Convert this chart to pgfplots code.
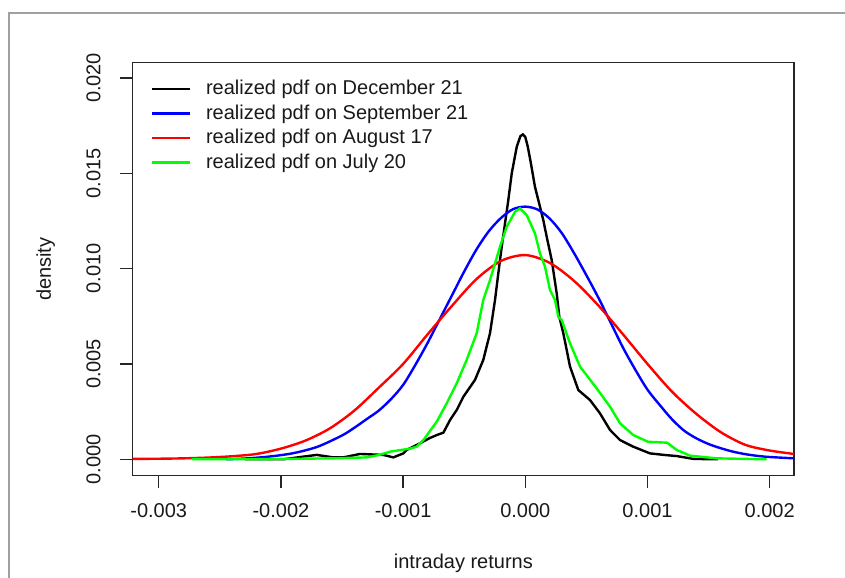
\documentclass[border=0pt]{standalone}
\usepackage{fontspec}
\setmainfont{Liberation Sans}
\usepackage{pgfplots}
\pgfplotsset{compat=1.18}
\definecolor{rblue}{RGB}{0,0,255}
\definecolor{rred}{RGB}{255,0,0}
\definecolor{rgreen}{RGB}{0,255,0}
\definecolor{framegray}{RGB}{160,160,160}
\begin{document}
\begin{tikzpicture}[x=1bp,y=1bp]
\useasboundingbox (0,0) rectangle (845,578);
\draw[framegray, line width=2bp] (9,0) -- (9,564.7) -- (845,564.7);
\begin{axis}[
  at={(132.7bp,102.3bp)}, anchor=south west,
  scale only axis, width=661.3bp, height=413bp,
  xmin=-0.003213, xmax=0.002199, ymin=-0.00086, ymax=0.0208,
  axis line style={line width=1.3bp, black!85},
  xtick={-0.003,-0.002,-0.001,0,0.001,0.002},
  xticklabels={-0.003,-0.002,-0.001,0.000,0.001,0.002},
  ytick={0,0.005,0.01,0.015,0.02},
  yticklabels={0.000,0.005,0.010,0.015,0.020},
  scaled ticks=false,
  tick align=outside, tick pos=left,
  major tick length=12.5bp,
  every tick/.style={black!85, line width=1.3bp},
  ticklabel style={font=\fontsize{20bp}{24bp}\selectfont, inner sep=0pt, black!90},
  xticklabel style={anchor=north, yshift=-15.5bp},
  yticklabel style={xshift=-19.5bp, rotate=90, anchor=south},
  every axis x label/.style={at={(axis description cs:0.5,0)}, anchor=base, yshift=-92.6bp, font=\fontsize{20bp}{24bp}\selectfont, black!90},
  every axis y label/.style={at={(axis description cs:0,0.5)}, xshift=-81.7bp, rotate=90, anchor=base, font=\fontsize{20bp}{24bp}\selectfont, black!90},
  xlabel={intraday returns},
  ylabel={density},
  legend cell align=left,
  legend image code/.code={\draw[#1] (0bp,0bp) -- (37.6bp,0bp);},
  legend style={at={(axis description cs:0,1)}, anchor=north west, xshift=18bp, yshift=-17bp,
    draw=none, fill=none, inner sep=0pt, outer sep=0pt, row sep=5.5bp, column sep=15.3bp,
    font=\fontsize{20bp}{24bp}\selectfont,
    nodes={inner sep=0pt, text height=15bp, text depth=4bp, text=black!90}},
]
\addplot[black, line width=2.4bp] coordinates {
(-0.002294,0.00000) (-0.001980,0.00000) (-0.001817,0.00014) (-0.001707,0.00023)
(-0.001571,0.00010) (-0.001489,0.00010) (-0.001353,0.00028) (-0.001162,0.00023)
(-0.001080,0.00010) (-0.000998,0.00031) (-0.000971,0.00049) (-0.000889,0.00075)
(-0.000780,0.00112) (-0.000725,0.00127) (-0.000670,0.00140) (-0.000616,0.00206)
(-0.000561,0.00259) (-0.000507,0.00328) (-0.000412,0.00416) (-0.000344,0.00521)
(-0.000289,0.00661) (-0.000248,0.00835) (-0.000221,0.00975) (-0.000193,0.01115)
(-0.000166,0.01238) (-0.000139,0.01360) (-0.000111,0.01500) (-0.000070,0.01639)
(-0.000040,0.01695) (-0.000020,0.01704) (0.000000,0.01690) (0.000020,0.01640)
(0.000045,0.01555) (0.000079,0.01429)
(0.000120,0.01325) (0.000147,0.01255) (0.000175,0.01167) (0.000216,0.01045)
(0.000257,0.00870) (0.000278,0.00748) (0.000311,0.00661) (0.000366,0.00486)
(0.000434,0.00363) (0.000529,0.00311) (0.000611,0.00241) (0.000693,0.00154)
(0.000775,0.00101) (0.000884,0.00066) (0.001020,0.00031) (0.001150,0.00022)
(0.001239,0.00017) (0.001375,0.00002) (0.001577,0.00000)
};
\addlegendentry{realized pdf on December 21}
\addplot[rblue, line width=2.4bp, smooth, tension=0.5] coordinates {
(-0.00245,0.00000) (-0.00230,0.00004) (-0.00210,0.00014) (-0.00190,0.00032)
(-0.00170,0.00066) (-0.00150,0.00125) (-0.00140,0.00165) (-0.00130,0.00210)
(-0.00120,0.00255) (-0.00110,0.00315) (-0.00100,0.00390) (-0.00090,0.00495)
(-0.00080,0.00610) (-0.00070,0.00735) (-0.00060,0.00860) (-0.00050,0.00985)
(-0.00040,0.01100) (-0.00030,0.01195) (-0.00020,0.01265) (-0.00010,0.01312)
(0.00000,0.01325) (0.00010,0.01310) (0.00020,0.01262) (0.00030,0.01185)
(0.00040,0.01080) (0.00050,0.00965) (0.00060,0.00845) (0.00070,0.00715)
(0.00080,0.00585) (0.00090,0.00470) (0.00100,0.00365) (0.00110,0.00285)
(0.00120,0.00210) (0.00130,0.00150) (0.00140,0.00110) (0.00150,0.00080)
(0.00160,0.00058) (0.00170,0.00040) (0.00180,0.00027) (0.00190,0.00018)
(0.00200,0.00012) (0.00220,0.00005)
};
\addlegendentry{realized pdf on September 21}
\addplot[rred, line width=2.4bp, smooth, tension=0.5] coordinates {
(-0.003213,0.00002) (-0.00300,0.00003) (-0.00280,0.00005) (-0.00260,0.00009)
(-0.00240,0.00016) (-0.00220,0.00028) (-0.00200,0.00056) (-0.00180,0.00098)
(-0.00160,0.00162) (-0.00140,0.00255) (-0.00120,0.00375) (-0.00100,0.00500)
(-0.00080,0.00655) (-0.00060,0.00805) (-0.00040,0.00945) (-0.00020,0.01040)
(0.00000,0.01071) (0.00020,0.01030) (0.00040,0.00935) (0.00060,0.00805)
(0.00080,0.00655) (0.00100,0.00500) (0.00120,0.00355) (0.00140,0.00238)
(0.00160,0.00142) (0.00180,0.00076) (0.00200,0.00046) (0.002199,0.00028)
};
\addlegendentry{realized pdf on August 17}
\addplot[rgreen, line width=2.4bp] coordinates {
(-0.002730,0.00000) (-0.002253,0.00000) (-0.001571,0.00005) (-0.001298,0.00010)
(-0.001200,0.00022) (-0.001107,0.00040) (-0.000944,0.00056) (-0.000889,0.00066)
(-0.000834,0.00101) (-0.000725,0.00197) (-0.000643,0.00294) (-0.000561,0.00399)
(-0.000480,0.00521) (-0.000398,0.00661) (-0.000344,0.00835) (-0.000289,0.00940)
(-0.000207,0.01115) (-0.000152,0.01220) (-0.000084,0.01298) (-0.000043,0.01316)
(0.000011,0.01281) (0.000079,0.01185) (0.000120,0.01080) (0.000161,0.01010)
(0.000202,0.00888) (0.000243,0.00835) (0.000270,0.00748) (0.000298,0.00730)
(0.000366,0.00608) (0.000448,0.00486) (0.000584,0.00372) (0.000693,0.00276)
(0.000775,0.00189) (0.000884,0.00127) (0.001004,0.00092) (0.001160,0.00087)
(0.001239,0.00049) (0.001348,0.00019) (0.001566,0.00005) (0.001975,0.00000)
};
\addlegendentry{realized pdf on July 20}
\end{axis}
\end{tikzpicture}
\end{document}
